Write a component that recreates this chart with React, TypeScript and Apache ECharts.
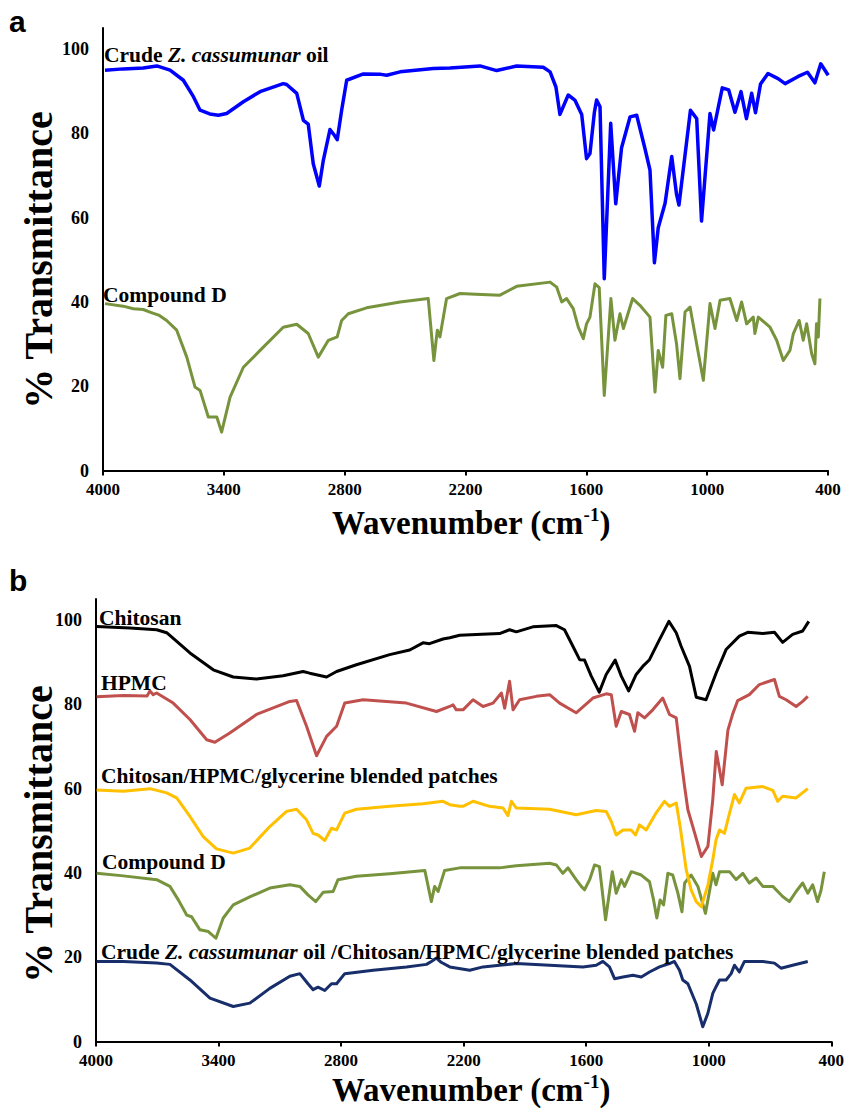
import React, { useEffect, useRef } from 'react';
import * as echarts from 'echarts';

// ---------- axis ticks ----------
const wavenumberTicks = [400, 1000, 1600, 2200, 2800, 3400, 4000];
const transmittanceTicks = [0, 20, 40, 60, 80, 100];

// ---------- panel a ----------
const crudeOilA: number[][] = [
  [3990, 95.0], [3900, 95.3], [3800, 95.5], [3733, 96.0], [3667, 95.0], [3601, 92.6], [3551, 88.7],
  [3518, 85.5], [3470, 84.6], [3427, 84.3], [3386, 84.7], [3303, 87.5], [3220, 89.9], [3105, 91.8],
  [3088, 91.6], [3038, 89.5], [3005, 83.1], [2981, 82.2], [2956, 72.8], [2926, 67.5], [2906, 73.6],
  [2873, 80.9], [2850, 79.5], [2837, 78.5], [2815, 85.5], [2790, 92.6], [2707, 94.1], [2620, 94.0],
  [2591, 93.8], [2525, 94.6], [2360, 95.4], [2277, 95.5], [2128, 96.0], [2045, 94.9], [1946, 96.0],
  [1814, 95.7], [1780, 94.6], [1751, 91.0], [1731, 84.5], [1690, 89.1], [1657, 87.9], [1623, 84.5],
  [1599, 74.0], [1582, 75.2], [1560, 85.0], [1549, 87.9], [1532, 86.3], [1511, 45.5], [1479, 82.4],
  [1454, 63.3], [1425, 76.6], [1383, 83.9], [1350, 84.3], [1309, 76.4], [1284, 71.3], [1262, 49.3],
  [1243, 57.6], [1209, 63.4], [1176, 74.5], [1152, 65.5], [1140, 63.0], [1083, 85.5], [1052, 83.5],
  [1028, 59.2], [986, 84.7], [968, 80.8], [925, 90.8], [893, 90.3], [862, 85.0], [832, 89.9],
  [805, 83.5], [779, 89.5], [760, 84.9], [735, 91.7], [698, 94.2], [648, 93.0], [613, 91.8],
  [548, 93.5], [502, 94.5], [465, 92.0], [436, 96.5], [399, 93.8]
];
const compoundDA: number[][] = [
  [3990, 39.6], [3900, 39.0], [3849, 38.4], [3800, 38.2], [3767, 37.6], [3720, 36.8], [3684, 35.6],
  [3634, 33.3], [3584, 26.9], [3543, 19.8], [3518, 19.0], [3477, 12.7], [3435, 12.7], [3411, 9.1],
  [3369, 17.4], [3303, 24.5], [3220, 28.5], [3105, 34.0], [3038, 34.7], [2981, 32.5], [2931, 26.9],
  [2881, 30.9], [2837, 31.7], [2815, 35.6], [2782, 37.2], [2691, 38.6], [2525, 40.0], [2385, 40.8],
  [2357, 26.1], [2340, 33.3], [2327, 31.7], [2294, 40.8], [2227, 42.0], [2150, 41.8], [2029, 41.6],
  [1946, 43.7], [1780, 44.7], [1747, 43.5], [1722, 40.0], [1698, 40.8], [1665, 38.4], [1640, 34.0],
  [1615, 31.3], [1599, 34.8], [1582, 36.4], [1557, 44.3], [1536, 43.4], [1511, 17.8], [1478, 40.8],
  [1458, 30.9], [1433, 37.2], [1416, 33.7], [1370, 40.8], [1334, 39.2], [1284, 36.4], [1259, 18.6],
  [1243, 28.5], [1221, 24.5], [1205, 36.8], [1176, 37.2], [1152, 30.0], [1135, 21.8], [1110, 37.6],
  [1085, 38.8], [1049, 29.2], [1019, 21.4], [986, 39.6], [961, 33.7], [936, 40.4], [887, 40.8],
  [853, 35.6], [829, 40.0], [804, 34.8], [771, 36.4], [763, 32.5], [746, 36.4], [688, 34.0],
  [655, 30.9], [622, 26.1], [589, 28.5], [572, 32.5], [543, 35.6], [523, 30.9], [506, 34.8],
  [481, 27.7], [465, 25.3], [457, 34.8], [448, 31.7], [440, 40.8]
];

// ---------- panel b ----------
const chitosanB: number[][] = [
  [3997, 98.5], [3834, 98.1], [3703, 97.7], [3654, 97.0], [3540, 92.2], [3426, 88.2], [3328, 86.5],
  [3214, 86.0], [3084, 86.8], [2986, 87.8], [2954, 87.4], [2871, 86.5], [2822, 87.8], [2725, 89.4],
  [2562, 91.8], [2464, 92.9], [2399, 94.6], [2367, 94.4], [2301, 95.5], [2268, 95.8], [2219, 96.4],
  [2138, 96.6], [2024, 96.8], [1975, 97.7], [1942, 97.2], [1861, 98.4], [1746, 98.7], [1706, 97.7],
  [1665, 93.8], [1632, 90.6], [1608, 90.5], [1575, 86.7], [1536, 82.9], [1502, 87.1], [1458, 90.5],
  [1428, 86.7], [1392, 83.2], [1355, 87.1], [1323, 89.0], [1290, 90.6], [1249, 94.6], [1195, 99.7],
  [1159, 97.0], [1135, 93.8], [1094, 89.0], [1061, 81.7], [1013, 81.1], [963, 87.5], [915, 93.0],
  [850, 96.2], [809, 97.1], [735, 96.8], [678, 97.1], [638, 94.7], [589, 96.6], [540, 97.4], [510, 99.7]
];
const hpmcB: number[][] = [
  [3997, 81.8], [3866, 82.1], [3750, 82.0], [3736, 83.2], [3720, 82.3], [3703, 82.7], [3622, 80.3],
  [3540, 76.4], [3458, 71.6], [3418, 71.0], [3345, 73.2], [3214, 77.6], [3051, 80.7], [3018, 80.9],
  [2969, 74.8], [2920, 67.8], [2871, 72.4], [2822, 74.8], [2782, 80.3], [2692, 81.1], [2480, 80.3],
  [2333, 78.3], [2268, 79.5], [2252, 79.9], [2236, 78.7], [2203, 78.7], [2154, 81.1], [2105, 79.5],
  [2056, 80.3], [2015, 82.7], [1999, 79.1], [1975, 85.5], [1958, 78.7], [1926, 81.1], [1844, 81.9],
  [1779, 82.3], [1730, 80.3], [1649, 78.0], [1567, 81.5], [1502, 82.5], [1477, 82.3], [1453, 74.8],
  [1428, 78.3], [1388, 77.6], [1363, 73.6], [1347, 78.0], [1314, 76.8], [1274, 78.7], [1225, 81.5],
  [1192, 77.6], [1159, 76.8], [1135, 66.9], [1118, 60.5], [1102, 55.0], [1069, 49.5], [1036, 43.9],
  [1004, 46.3], [980, 57.4], [963, 68.8], [934, 60.9], [906, 73.9], [882, 77.8], [858, 80.9],
  [801, 82.3], [752, 84.7], [678, 85.9], [654, 81.9], [621, 81.1], [572, 79.5], [540, 80.7], [515, 81.9]
];
const blendPatchB: number[][] = [
  [3997, 59.7], [3866, 59.4], [3736, 60.0], [3654, 59.0], [3605, 57.8], [3540, 53.4], [3475, 48.6],
  [3410, 45.7], [3328, 44.7], [3247, 45.9], [3149, 51.0], [3067, 54.6], [3018, 55.1], [2969, 52.6],
  [2937, 49.4], [2913, 49.0], [2880, 47.7], [2847, 50.6], [2822, 50.2], [2782, 54.2], [2725, 55.1],
  [2562, 55.8], [2399, 56.4], [2301, 57.0], [2268, 56.2], [2219, 55.8], [2203, 55.8], [2154, 57.0],
  [2073, 55.8], [2007, 55.4], [1983, 53.6], [1966, 57.0], [1942, 55.4], [1779, 55.1], [1649, 53.8],
  [1551, 54.8], [1502, 54.6], [1477, 52.2], [1453, 49.0], [1420, 50.2], [1380, 50.2], [1358, 49.0],
  [1339, 51.4], [1306, 50.2], [1258, 54.2], [1217, 57.0], [1192, 55.8], [1159, 56.6], [1140, 51.0],
  [1110, 40.7], [1086, 36.0], [1061, 33.2], [1036, 32.0], [1004, 37.1], [980, 43.1], [964, 47.9],
  [947, 50.2], [923, 49.4], [898, 54.2], [874, 58.6], [850, 56.6], [817, 60.1], [735, 60.5],
  [686, 59.6], [662, 57.0], [638, 58.2], [572, 57.8], [515, 60.0]
];
const compoundDB: number[][] = [
  [3997, 39.9], [3866, 39.3], [3703, 38.4], [3638, 36.8], [3597, 33.6], [3556, 30.0], [3532, 29.6],
  [3491, 26.5], [3450, 26.1], [3413, 24.5], [3377, 29.3], [3328, 32.4], [3247, 34.3], [3149, 36.4],
  [3051, 37.2], [3002, 36.8], [2962, 34.8], [2924, 33.2], [2888, 35.4], [2839, 35.6], [2815, 38.4],
  [2725, 39.2], [2562, 39.8], [2390, 40.6], [2358, 33.2], [2342, 36.8], [2325, 35.6], [2293, 40.6],
  [2219, 41.2], [2024, 41.2], [1942, 41.7], [1779, 42.3], [1746, 41.9], [1714, 39.9], [1689, 41.2],
  [1649, 38.4], [1624, 36.8], [1608, 36.0], [1583, 38.4], [1559, 41.9], [1535, 41.5], [1505, 28.9],
  [1472, 40.3], [1453, 35.2], [1428, 38.4], [1412, 36.8], [1379, 40.3], [1330, 39.5], [1290, 37.9],
  [1270, 33.6], [1254, 29.3], [1238, 33.6], [1221, 32.4], [1200, 39.9], [1176, 39.5], [1151, 35.2],
  [1131, 30.8], [1118, 37.6], [1086, 39.5], [1053, 36.8], [1016, 30.4], [980, 39.9], [964, 37.2],
  [947, 40.3], [898, 40.3], [866, 38.4], [833, 39.9], [801, 37.6], [768, 38.8], [735, 36.8],
  [686, 36.8], [638, 34.4], [605, 33.2], [572, 35.6], [540, 37.6], [515, 35.2], [491, 37.2],
  [467, 33.2], [450, 35.9], [434, 40.3]
];
const crudeOilPatchB: number[][] = [
  [3997, 19.0], [3866, 19.0], [3703, 18.6], [3638, 18.3], [3540, 14.6], [3442, 10.3], [3328, 8.3],
  [3247, 9.1], [3149, 12.6], [3051, 15.5], [3002, 16.1], [2962, 13.7], [2937, 12.3], [2913, 12.9],
  [2880, 12.1], [2847, 13.7], [2822, 13.7], [2782, 16.1], [2643, 16.9], [2480, 17.7], [2382, 18.3],
  [2358, 19.0], [2333, 19.8], [2310, 18.8], [2268, 17.7], [2170, 16.9], [2105, 17.7], [2024, 18.1],
  [1942, 18.5], [1779, 18.1], [1616, 17.7], [1551, 18.1], [1518, 19.0], [1486, 17.7], [1461, 14.9],
  [1420, 15.3], [1371, 15.7], [1330, 15.3], [1290, 16.5], [1241, 17.7], [1192, 18.5], [1168, 19.0],
  [1143, 16.9], [1127, 14.6], [1102, 13.7], [1061, 8.9], [1029, 3.5], [1004, 6.7], [980, 11.4],
  [964, 13.0], [947, 14.6], [915, 14.6], [890, 16.1], [874, 18.1], [850, 16.5], [825, 19.0],
  [735, 19.0], [678, 18.6], [646, 17.4], [589, 18.1], [515, 19.0]
];

const SERIF = 'Liberation Serif';

function xAxisCfg(gridIndex: number) {
  return {
    type: 'value',
    gridIndex,
    inverse: true,
    min: 400,
    max: 4000,
    axisLine: { lineStyle: { color: '#000', width: 2 } },
    axisTick: { show: true, inside: false, length: 5, customValues: wavenumberTicks, lineStyle: { color: '#000', width: 2 } },
    axisLabel: {
      customValues: wavenumberTicks,
      formatter: (v: number) => String(v),
      showMinLabel: true,
      showMaxLabel: true,
      fontFamily: SERIF,
      fontWeight: 'bold',
      fontSize: 17,
      color: '#000',
      margin: 10,
    },
    splitLine: { show: false },
  };
}

function yAxisCfg(gridIndex: number) {
  return {
    type: 'value',
    gridIndex,
    min: 0,
    max: 105,
    axisLine: { show: true, lineStyle: { color: '#000', width: 2 } },
    axisTick: { show: false },
    axisLabel: {
      customValues: transmittanceTicks,
      formatter: (v: number) => String(v),
      fontFamily: SERIF,
      fontWeight: 'bold',
      fontSize: 18,
      color: '#000',
      margin: 14,
    },
    splitLine: { show: false },
  };
}

function line(data: number[][], color: string, width: number, axis: number) {
  return {
    type: 'line',
    xAxisIndex: axis,
    yAxisIndex: axis,
    data,
    symbol: 'none',
    showSymbol: false,
    silent: true,
    lineStyle: { color, width, join: 'round' },
  };
}

const LABEL_SIZE = 21.5;
const labelRich = {
  n: { fontFamily: SERIF, fontWeight: 'bold', fontSize: LABEL_SIZE, fill: '#000' },
  i: { fontFamily: SERIF, fontWeight: 'bold', fontStyle: 'italic', fontSize: LABEL_SIZE, fill: '#000' },
};

function seriesLabel(x: number, y: number, text: string) {
  return {
    type: 'text',
    x,
    y,
    silent: true,
    z: 100,
    style: { text, rich: labelRich, fontFamily: SERIF, fontWeight: 'bold', fontSize: LABEL_SIZE, fill: '#000', verticalAlign: 'middle', align: 'left' },
  };
}

function xTitle(y: number) {
  return {
    type: 'text',
    x: 471,
    y,
    silent: true,
    style: {
      text: '{t|Wavenumber (cm}{s|-1}{t|)}',
      rich: {
        t: { fontFamily: SERIF, fontWeight: 'bold', fontSize: 33, fill: '#000', lineHeight: 37 },
        s: { fontFamily: SERIF, fontWeight: 'bold', fontSize: 19, fill: '#000', verticalAlign: 'top', lineHeight: 37 },
      },
      align: 'center',
      verticalAlign: 'middle',
    },
  };
}

function yTitle(y: number) {
  return {
    type: 'text',
    x: 38,
    y,
    rotation: Math.PI / 2,
    silent: true,
    style: { text: '% Transmittance', fontFamily: SERIF, fontWeight: 'bold', fontSize: 40, fill: '#000', align: 'center', verticalAlign: 'middle' },
  };
}

function panelLetter(y: number, text: string) {
  return {
    type: 'text',
    x: 9,
    y,
    silent: true,
    style: { text, fontFamily: 'Liberation Sans', fontWeight: 'bold', fontSize: 30, fill: '#000', align: 'left', verticalAlign: 'middle' },
  };
}

export default function App() {
  const ref = useRef<HTMLDivElement>(null);
  useEffect(() => {
    if (!ref.current) return;
    const chart = echarts.init(ref.current, null, { renderer: 'svg' });
    const option: any = {
      animation: false,
      backgroundColor: '#fff',
      grid: [
        { left: 103, top: 28, width: 725, height: 442.5 },
        { left: 96, top: 599, width: 736, height: 442.5 },
      ],
      xAxis: [xAxisCfg(0), xAxisCfg(1)],
      yAxis: [yAxisCfg(0), yAxisCfg(1)],
      series: [
        line(compoundDA, '#77933C', 3, 0),
        line(crudeOilA, '#0000FF', 3.5, 0),
        line(chitosanB, '#000000', 3, 1),
        line(hpmcB, '#C0504D', 3, 1),
        line(compoundDB, '#77933C', 3, 1),
        line(blendPatchB, '#FFC000', 3, 1),
        line(crudeOilPatchB, '#172E6B', 3, 1),
      ],
      graphic: [
        panelLetter(21, 'a'),
        panelLetter(580, 'b'),
        seriesLabel(104, 55, '{n|Crude }{i|Z. cassumunar}{n| oil}'),
        seriesLabel(103, 295, '{n|Compound D}'),
        seriesLabel(99, 618, '{n|Chitosan}'),
        seriesLabel(101, 683, '{n|HPMC}'),
        seriesLabel(101, 776, '{n|Chitosan/HPMC/glycerine blended patches}'),
        seriesLabel(102, 862, '{n|Compound D}'),
        seriesLabel(101, 952, '{n|Crude }{i|Z. cassumunar}{n| oil /Chitosan/HPMC/glycerine blended patches}'),
        xTitle(523),
        xTitle(1090),
        yTitle(260),
        yTitle(834),
      ],
    };
    chart.setOption(option);
    return () => chart.dispose();
  }, []);
  return (
    <div
      ref={ref}
      style={{ position: 'absolute', left: 0, top: 0, width: 847, height: 1108, background: '#fff' }}
    />
  );
}
